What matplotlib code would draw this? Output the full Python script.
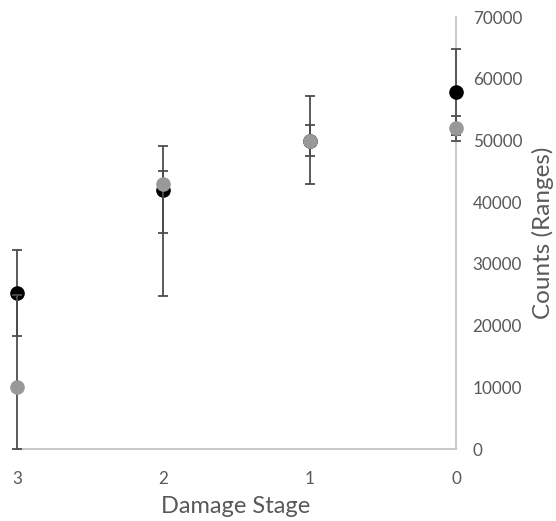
import matplotlib.pyplot as plt

plt.rcParams["font.family"] = ["Lato", "DejaVu Sans"]

stages = [3, 2, 1, 0]
black_vals = [25300, 42000, 50000, 57900]
black_err_low = [7000, 7000, 7000, 7000]
black_err_high = [7000, 7100, 7200, 7000]
gray_vals = [10000, 43000, 50000, 52000]
gray_err_low = [10000, 18200, 2500, 2000]
gray_err_high = [15000, 2000, 2500, 2000]

fig = plt.figure(figsize=(5.56, 5.21), dpi=100)
ax = fig.add_axes([0.0306, 0.138, 0.7896, 0.829])

ax.errorbar(stages, black_vals, yerr=[black_err_low, black_err_high], fmt="o",
            color="black", ecolor="#4d4d4d", elinewidth=1.3, capsize=3.5,
            capthick=1.3, markersize=9.5, clip_on=False, zorder=3)
ax.errorbar(stages, gray_vals, yerr=[gray_err_low, gray_err_high], fmt="o",
            color="#999999", ecolor="#4d4d4d", elinewidth=1.3, capsize=3.5,
            capthick=1.3, markersize=9.5, clip_on=False, zorder=4)

ax.set_xlim(3, 0)
ax.set_ylim(0, 70000)
ax.set_xticks(stages)
ax.set_yticks(range(0, 70001, 10000))

ax.yaxis.tick_right()
ax.yaxis.set_label_position("right")
for s in ["top", "left"]:
    ax.spines[s].set_visible(False)
for s in ["right", "bottom"]:
    ax.spines[s].set_color("#c0c0c0")
    ax.spines[s].set_linewidth(1.2)

ax.tick_params(axis="both", length=0, labelsize=12.3, labelcolor="#595959")
ax.tick_params(axis="y", pad=12)
ax.tick_params(axis="x", pad=16)

ax.set_xlabel("Damage Stage", fontsize=17, color="#595959", va="center")
ax.xaxis.set_label_coords(0.499, -0.132)
ax.set_ylabel("Counts (Ranges)", fontsize=17.5, color="#595959", va="center", ha="center")
ax.yaxis.set_label_coords(1.198, 0.5)

fig.savefig("out.png", dpi=100)
